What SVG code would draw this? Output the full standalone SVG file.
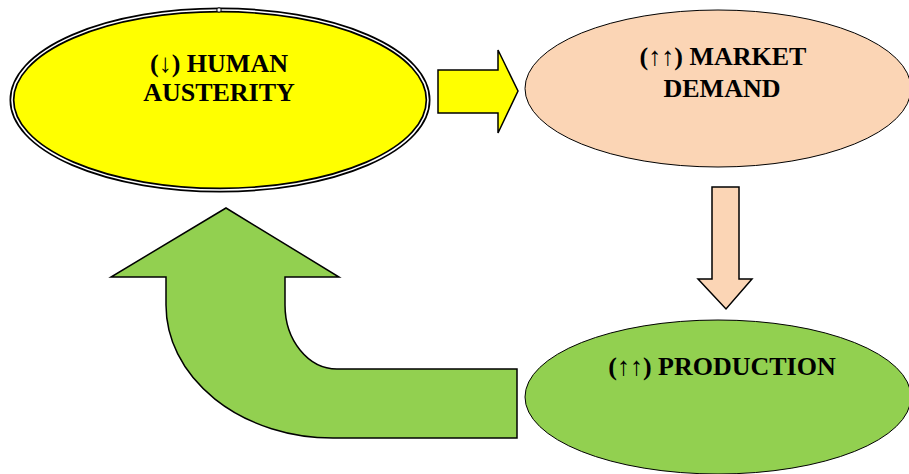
<svg xmlns="http://www.w3.org/2000/svg" width="909" height="474" viewBox="0 0 909 474">
<style>
.lbl{font-family:"Liberation Serif","Times New Roman",serif;font-weight:bold;font-size:26px;fill:#000;text-anchor:middle}
.arr{font-weight:normal}
.shape{stroke:#000;stroke-width:1.5;stroke-linejoin:miter}
</style>
<rect width="909" height="474" fill="#fff"/>
<g id="connectors">
  <path class="shape" fill="#FFFF00" d="M438,70 L498,70 L498,50 L518,91 L498,133 L498,113 L438,113 Z"/>
  <path class="shape" fill="#FBD5B5" d="M712,187 L739,187 L739,279 L752,279 L726,309 L698,279 L712,279 Z"/>
  <path class="shape" fill="#92D050" d="M226,208 L339,277 L285,277 L285,305 A52 64 0 0 0 337,369 L517,369 L517,438 L333,438 A167 133 0 0 1 166,305 L166,277 L111,277 Z"/>
</g>
<g id="node-human-austerity">
  <ellipse cx="220" cy="100" rx="208" ry="90" fill="#FFFF00" stroke="#000" stroke-width="5"/>
  <ellipse cx="220" cy="100" rx="208" ry="90" fill="none" stroke="#fff" stroke-width="1.6"/>
  <circle cx="219" cy="10" r="2.2" fill="#fff" stroke="#000" stroke-width="1"/>
  <text class="lbl" x="219" y="72">(<tspan class="arr">↓</tspan>) HUMAN</text>
  <text class="lbl" x="219" y="101">AUSTERITY</text>
</g>
<g id="node-market-demand">
  <ellipse cx="718" cy="88.5" rx="193" ry="78.5" fill="#FBD5B5" stroke="#000" stroke-width="1"/>
  <text class="lbl" x="723" y="65">(<tspan class="arr">↑↑</tspan>) MARKET</text>
  <text class="lbl" x="722" y="97">DEMAND</text>
</g>
<g id="node-production">
  <ellipse cx="718" cy="397" rx="193" ry="77" fill="#92D050" stroke="#000" stroke-width="1"/>
  <text class="lbl" x="722" y="375">(<tspan class="arr">↑↑</tspan>) PRODUCTION</text>
</g>
</svg>
